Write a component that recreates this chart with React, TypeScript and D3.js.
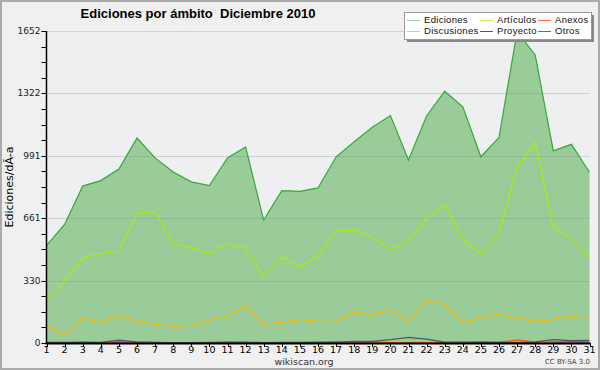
import React, { useRef, useEffect } from 'react';
import * as d3 from 'd3';

const days = d3.range(1, 32);
const ediciones = [515, 628, 831, 860, 921, 1085, 980, 905, 853, 833, 980, 1038, 651, 807, 803, 821, 986, 1066, 1142, 1204, 969, 1202, 1333, 1251, 986, 1089, 1648, 1525, 1017, 1052, 904];
const articulos = [228, 328, 448, 475, 487, 687, 695, 524, 505, 475, 528, 501, 351, 454, 401, 461, 593, 597, 560, 496, 540, 660, 734, 549, 470, 577, 930, 1063, 613, 554, 454];
const discusiones = [92, 41, 132, 109, 146, 113, 99, 88, 93, 122, 143, 194, 99, 109, 125, 115, 115, 164, 152, 173, 115, 228, 205, 109, 132, 152, 134, 115, 125, 143, 131];
const anexos = [2, 1, 3, 2, 8, 4, 2, 2, 1, 2, 3, 5, 2, 2, 2, 3, 4, 7, 5, 2, 1, 2, 1, 2, 6, 3, 16, 5, 6, 7, 8];
const proyecto = [3, 3, 4, 3, 15, 6, 3, 2, 2, 3, 4, 3, 2, 3, 3, 3, 5, 9, 9, 18, 30, 20, 4, 5, 4, 3, 3, 6, 18, 12, 14];
const otros = [1, 0, 1, 1, 4, 2, 1, 0, 1, 2, 1, 1, 1, 1, 2, 4, 3, 1, 1, 1, 0, 1, 1, 1, 1, 1, 1, 1, 1, 1, 1];
const yTicks = [0, 330, 661, 991, 1322, 1652];
const yMax = 1652;

const legendItems = [
    { name: 'Ediciones', color: '#99cc99' },
    { name: 'Artículos', color: '#ccee55' },
    { name: 'Anexos', color: '#ff7744' },
    { name: 'Discusiones', color: '#ffcc33' },
    { name: 'Proyecto', color: '#555555' },
    { name: 'Otros', color: '#8844ee' },
];

const Chart: React.FC = () => {
    const svgRef = useRef<SVGSVGElement>(null);

    useEffect(() => {
        if (!svgRef.current) return;
        document.body.style.margin = '0';

        const width = 600;
        const height = 370;
        const font = 'DejaVu Sans, sans-serif';
        const narrow = 'Liberation Sans, Arial, sans-serif';

        d3.select(svgRef.current).selectAll('*').remove();
        const svg = d3.select(svgRef.current)
            .attr('width', width)
            .attr('height', height)
            .style('display', 'block');

        const x = d3.scaleLinear().domain([1, 31]).range([46.5, 589.5]);
        const y = d3.scaleLinear().domain([0, yMax]).range([343, 31]);

        // background + frame
        svg.append('rect').attr('x', 1).attr('y', 1).attr('width', width - 2).attr('height', height - 2)
            .attr('fill', '#f0f0f0').attr('stroke', '#aaaaaa').attr('stroke-width', 2);
        svg.append('rect').attr('x', x(1)).attr('y', y(yMax)).attr('width', x(31) - x(1)).attr('height', y(0) - y(yMax))
            .attr('fill', '#eeeff1');

        // total area
        const area = d3.area<number>()
            .x((d, i) => x(days[i]))
            .y0(y(0))
            .y1(d => y(d));
        svg.append('path').datum(ediciones).attr('d', area).attr('fill', '#99cc99');

        // grid
        svg.selectAll('.grid').data(yTicks.slice(1)).enter().append('line')
            .attr('x1', x(1)).attr('x2', x(31))
            .attr('y1', d => Math.round(y(d)) + 0.5).attr('y2', d => Math.round(y(d)) + 0.5)
            .attr('stroke', '#777').attr('stroke-opacity', 0.25);

        const line = d3.line<number>().x((d, i) => x(days[i])).y(d => y(d));
        const series: [number[], string, number][] = [
            [articulos, '#aaee00', 1.2],
            [discusiones, '#ffbb00', 1.2],
            [otros, '#8833ee', 1.2],
            [anexos, '#ff5500', 1.2],
            [proyecto, '#555555', 1.3],
            [ediciones, '#33aa33', 1.2],
        ];
        series.forEach(([data, color, w]) => {
            svg.append('path').datum(data).attr('d', line)
                .attr('fill', 'none').attr('stroke', color).attr('stroke-width', w);
        });

        // y axis
        const yAxis = svg.append('g');
        yAxis.append('line').attr('x1', x(1)).attr('x2', x(1)).attr('y1', y(yMax)).attr('y2', y(0))
            .attr('stroke', '#000').attr('stroke-width', 1.5);
        const minor = d3.range(0, 21).map(i => (yMax * i) / 20);
        yAxis.selectAll('.minor').data(minor).enter().append('line')
            .attr('x1', x(1) - 5).attr('x2', x(1))
            .attr('y1', d => Math.round(y(d)) + 0.5).attr('y2', d => Math.round(y(d)) + 0.5)
            .attr('stroke', '#000');
        yAxis.selectAll('.lbl').data(yTicks).enter().append('text')
            .attr('x', x(1) - 6).attr('y', d => y(d) + 3)
            .attr('text-anchor', 'end')
            .style('font-family', font).style('font-size', '9px').attr('fill', '#222')
            .text(d => d);

        // x axis
        const xAxis = svg.append('g');
        xAxis.append('line').attr('x1', x(1) - 1).attr('x2', x(31) + 1).attr('y1', y(0) + 0.5).attr('y2', y(0) + 0.5)
            .attr('stroke', '#000').attr('stroke-width', 2);
        xAxis.selectAll('.xt').data(days).enter().append('line')
            .attr('x1', d => Math.round(x(d)) + 0.5).attr('x2', d => Math.round(x(d)) + 0.5)
            .attr('y1', y(0)).attr('y2', y(0) + 4)
            .attr('stroke', '#000');
        xAxis.selectAll('.xl').data(days).enter().append('text')
            .attr('x', d => x(d)).attr('y', y(0) + 10)
            .attr('text-anchor', 'middle')
            .style('font-family', font).style('font-size', '9.5px').attr('fill', '#000')
            .text(d => d);

        // texts
        svg.append('text').attr('x', 198).attr('y', 18).attr('text-anchor', 'middle')
            .attr('xml:space', 'preserve').style('white-space', 'pre')
            .style('font-family', narrow).style('font-size', '13px').style('font-weight', 'bold')
            .text('Ediciones por ámbito  Diciembre 2010');
        svg.append('text').attr('transform', `translate(13,${(y(0) + y(yMax)) / 2}) rotate(-90)`)
            .attr('text-anchor', 'middle')
            .style('font-family', font).style('font-size', '11px')
            .text('Ediciones/dÃ-a');
        svg.append('text').attr('x', 304).attr('y', 365).attr('text-anchor', 'middle')
            .style('font-family', font).style('font-size', '9.5px').attr('fill', '#333')
            .text('wikiscan.org');
        svg.append('text').attr('x', 590).attr('y', 364).attr('text-anchor', 'end')
            .style('font-family', font).style('font-size', '7px').attr('fill', '#444')
            .text('CC BY-SA 3.0');

        // legend
        const lg = svg.append('g');
        lg.append('rect').attr('x', 407).attr('y', 15).attr('width', 187).attr('height', 27).attr('fill', '#888');
        lg.append('rect').attr('x', 404.5).attr('y', 12.5).attr('width', 187).attr('height', 27)
            .attr('fill', '#fff').attr('stroke', '#999');
        const colX = [407, 480, 538];
        const rowY = [19.5, 30.5];
        legendItems.forEach((it, i) => {
            const cx = colX[i % 3];
            const cy = rowY[Math.floor(i / 3)];
            lg.append('line').attr('x1', cx).attr('x2', cx + 13).attr('y1', Math.round(cy) + 0.5).attr('y2', Math.round(cy) + 0.5)
                .attr('stroke', it.color);
            lg.append('text').attr('x', cx + 17).attr('y', cy + 3.5)
                .style('font-family', narrow).style('font-size', '9.5px').attr('fill', '#111')
                .style('letter-spacing', '0.3px')
                .text(it.name);
        });
    }, []);

    return <svg ref={svgRef}></svg>;
};

export default function App() {
    return <Chart />;
}
